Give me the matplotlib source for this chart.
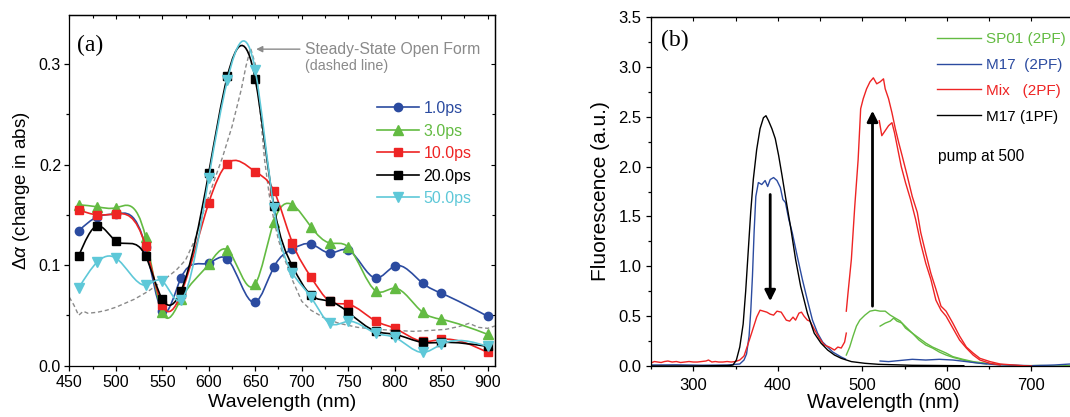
import numpy as np
import matplotlib
matplotlib.use('Agg')
import matplotlib.pyplot as plt
from matplotlib.path import Path
from matplotlib.patches import PathPatch
from matplotlib.lines import Line2D
from matplotlib.ticker import MultipleLocator, FixedLocator, FormatStrFormatter

plt.rcParams['font.family'] = ['Liberation Sans', 'DejaVu Sans']
plt.rcParams['mathtext.fontset'] = 'custom'
plt.rcParams['mathtext.rm'] = 'Liberation Sans'
plt.rcParams['mathtext.it'] = 'Liberation Sans:italic'

# ---------------- panel (a) data ----------------
wl = [460, 480, 500, 532, 550, 570, 600, 620, 650, 670, 690, 710, 730, 750, 780, 800, 830, 850, 900]
ps1 = [0.134, 0.148, 0.151, 0.118, 0.054, 0.087, 0.102, 0.106, 0.063, 0.098, 0.116, 0.121, 0.112, 0.115,
       0.087, 0.099, 0.082, 0.072, 0.049]
ps3 = [0.160, 0.158, 0.157, 0.128, 0.053, 0.066, 0.101, 0.115, 0.081, 0.143, 0.160, 0.138, 0.122, 0.118,
       0.074, 0.077, 0.053, 0.046, 0.031]
ps10 = [0.155, 0.150, 0.151, 0.119, 0.060, 0.071, 0.162, 0.201, 0.193, 0.174, 0.122, 0.088, 0.064, 0.061,
        0.044, 0.037, 0.024, 0.026, 0.013]
ps20 = [0.109, 0.139, 0.124, 0.109, 0.066, 0.074, 0.192, 0.288, 0.285, 0.159, 0.099, 0.070, 0.064, 0.053,
        0.034, 0.031, 0.023, 0.023, 0.019]
ps50 = [0.077, 0.103, 0.107, 0.080, 0.084, 0.065, 0.187, 0.284, 0.294, 0.157, 0.092, 0.068, 0.042, 0.044,
        0.032, 0.028, 0.013, 0.021, 0.019]

ss_x = [450, 455, 460, 465, 470, 480, 490, 500, 510, 520, 535, 550, 565, 575, 585, 595, 605, 615, 625, 635,
        640, 645, 650, 655, 660, 665, 670, 675, 680, 690, 700, 710, 725, 740, 760, 780, 800, 820, 840, 855,
        870, 880, 885, 890, 900, 910]
ss_y = [0.068, 0.060, 0.050, 0.054, 0.052, 0.053, 0.055, 0.058, 0.062, 0.066, 0.074, 0.084, 0.095, 0.105,
        0.125, 0.155, 0.182, 0.208, 0.238, 0.275, 0.298, 0.316, 0.300, 0.255, 0.205, 0.170, 0.145, 0.125,
        0.110, 0.085, 0.064, 0.055, 0.047, 0.042, 0.038, 0.036, 0.035, 0.034, 0.035, 0.036, 0.039, 0.042,
        0.040, 0.038, 0.037, 0.040]

# ---------------- panel (b) data ----------------
m17_1pf_x = [250, 300, 343, 347, 351, 355, 359, 362, 365, 368, 371, 375, 379, 383, 386, 389, 393, 397, 401,
             405, 409, 415, 421, 427, 435, 443, 451, 459, 467, 475, 487, 503, 519, 559, 620]
m17_1pf_y = [0.0, 0.0, 0.005, 0.01, 0.06, 0.19, 0.42, 0.75, 1.15, 1.55, 1.87, 2.17, 2.38, 2.49, 2.51, 2.46,
             2.38, 2.28, 2.11, 1.91, 1.70, 1.40, 1.07, 0.80, 0.53, 0.33, 0.23, 0.16, 0.11, 0.077, 0.044,
             0.027, 0.017, 0.007, 0.003]

m17_2pf_x = [250, 280, 310, 340, 355, 360, 363, 366, 368, 370, 372, 374, 377, 381, 385, 388, 391, 395, 399,
             403, 406, 409, 413, 417, 423, 429, 435, 441, 447, 453, 459, 465, 471, 475, 480]
m17_2pf_y = [0.01, 0.012, 0.008, 0.01, 0.02, 0.06, 0.12, 0.30, 0.55, 0.90, 1.35, 1.70, 1.84, 1.82, 1.86,
             1.80, 1.87, 1.89, 1.86, 1.79, 1.67, 1.64, 1.47, 1.34, 1.10, 0.87, 0.66, 0.46, 0.33, 0.24, 0.19,
             0.14, 0.11, 0.09, 0.07]
m17_2pf_tail_x = [521, 531, 543, 559, 575, 591, 607, 623, 639, 659, 679, 699, 727, 746]
m17_2pf_tail_y = [0.05, 0.044, 0.054, 0.067, 0.06, 0.067, 0.06, 0.044, 0.027, 0.013, 0.008, 0.003, 0.01, 0.02]

mix_x = [250, 254, 258, 262, 266, 270, 275, 280, 285, 290, 295, 300, 305, 310, 315, 318, 322, 326, 330, 335,
         340, 345, 350, 355, 360, 364, 369, 375, 379, 383, 387, 391, 395, 399, 404, 407, 410, 414, 418, 421,
         425, 428, 431, 435, 438, 443, 449, 455, 461, 467, 471, 475, 479, 481]
mix_y = [0.03, 0.045, 0.04, 0.035, 0.045, 0.05, 0.04, 0.045, 0.035, 0.04, 0.045, 0.04, 0.04, 0.045, 0.05,
         0.06, 0.04, 0.045, 0.04, 0.04, 0.045, 0.04, 0.045, 0.06, 0.10, 0.20, 0.33, 0.49, 0.56, 0.55, 0.54,
         0.52, 0.51, 0.55, 0.54, 0.50, 0.46, 0.45, 0.49, 0.46, 0.53, 0.54, 0.50, 0.46, 0.45, 0.37, 0.28,
         0.21, 0.19, 0.16, 0.19, 0.18, 0.24, 0.33]
mix2_x = [481, 483, 487, 491, 495, 498, 501, 505, 509, 513, 517, 521, 525, 527, 531, 535, 539, 543, 547, 553,
          559, 565, 569, 575, 581, 587, 593, 599, 607, 615, 623, 631, 639, 651, 663, 679, 691, 700]
mix2_y = [0.55, 0.73, 1.07, 1.60, 2.07, 2.58, 2.68, 2.78, 2.85, 2.89, 2.83, 2.85, 2.88, 2.78, 2.68, 2.54,
          2.38, 2.24, 2.11, 1.91, 1.70, 1.54, 1.34, 1.13, 0.93, 0.77, 0.60, 0.55, 0.43, 0.30, 0.19, 0.13,
          0.077, 0.044, 0.02, 0.01, 0.003, 0.0]
mix3_x = [520, 523, 527, 531, 535, 538, 542, 546, 551, 557, 563, 569, 575, 581, 587, 593, 599, 607, 615, 623,
          631, 639, 651, 663]
mix3_y = [2.46, 2.31, 2.36, 2.41, 2.44, 2.34, 2.17, 2.00, 1.84, 1.67, 1.47, 1.23, 1.03, 0.87, 0.66, 0.56,
          0.50, 0.38, 0.26, 0.18, 0.11, 0.06, 0.027, 0.01]

sp01_x = [481, 485, 489, 493, 497, 503, 509, 515, 521, 527, 533, 539, 545, 551, 559, 567, 575, 583, 591, 599,
          607, 619, 631, 647, 667, 687, 711, 730, 746]
sp01_y = [0.11, 0.19, 0.30, 0.40, 0.46, 0.51, 0.55, 0.56, 0.55, 0.55, 0.51, 0.48, 0.45, 0.38, 0.33, 0.28,
          0.23, 0.19, 0.16, 0.13, 0.094, 0.067, 0.044, 0.027, 0.013, 0.003, 0.005, 0.0, 0.005]
sp01b_x = [521, 527, 533, 537, 541, 547, 553, 559, 567, 575, 583, 591, 599, 607, 619, 631, 647]
sp01b_y = [0.40, 0.43, 0.45, 0.48, 0.45, 0.43, 0.38, 0.33, 0.26, 0.21, 0.18, 0.14, 0.11, 0.087, 0.06, 0.037,
           0.02]

BLUE = '#2b4ba0'
GREEN = '#63bb42'
RED = '#ee2424'
CYAN = '#5ec8d8'
GREY = '#8a8a8a'


def spline_path(x, y):
    # natural cubic spline, drawn as bezier segments
    x = np.asarray(x, float)
    y = np.asarray(y, float)
    n = len(x)
    h = np.diff(x)
    A = np.zeros((n, n))
    r = np.zeros(n)
    A[0, 0] = A[-1, -1] = 1
    for i in range(1, n - 1):
        A[i, i - 1] = h[i - 1]
        A[i, i] = 2 * (h[i - 1] + h[i])
        A[i, i + 1] = h[i]
        r[i] = 6 * ((y[i + 1] - y[i]) / h[i] - (y[i] - y[i - 1]) / h[i - 1])
    M = np.linalg.solve(A, r)
    d = np.empty(n)
    d[:-1] = (y[1:] - y[:-1]) / h - h * (2 * M[:-1] + M[1:]) / 6
    d[-1] = (y[-1] - y[-2]) / h[-1] + h[-1] * (M[-2] + 2 * M[-1]) / 6
    verts = [(x[0], y[0])]
    codes = [Path.MOVETO]
    for i in range(n - 1):
        verts += [(x[i] + h[i] / 3, y[i] + d[i] * h[i] / 3),
                  (x[i + 1] - h[i] / 3, y[i + 1] - d[i + 1] * h[i] / 3),
                  (x[i + 1], y[i + 1])]
        codes += [Path.CURVE4] * 3
    return Path(verts, codes)


def inner_ticks(sec, major, minor=None):
    # ticks on the top / right frame, pointing inward, no labels
    axis = sec.xaxis if hasattr(sec, 'xaxis') and sec._orientation == 'x' else sec.yaxis
    axis.set_major_locator(MultipleLocator(major))
    if minor:
        axis.set_minor_locator(MultipleLocator(minor))
    sec.tick_params(which='both', direction='in', width=0.8, labeltop=False, labelright=False,
                    labelbottom=False, labelleft=False)
    sec.tick_params(which='major', length=3)
    sec.tick_params(which='minor', length=2)
    for s in sec.spines.values():
        s.set_linewidth(0.9)


fig = plt.figure(figsize=(10.7, 4.17), dpi=100)

# ================= (a) =================
ax = fig.add_axes([0.0648, 0.1235, 0.3979, 0.8405])
ax.plot(ss_x, ss_y, color=GREY, lw=1.0, dashes=(3, 2), zorder=1)

series = [('1.0ps', ps1, BLUE, 'o', 6.0),
          ('3.0ps', ps3, GREEN, '^', 6.5),
          ('10.0ps', ps10, RED, 's', 5.5),
          ('20.0ps', ps20, 'black', 's', 5.5),
          ('50.0ps', ps50, CYAN, 'v', 6.5)]
handles = []
for k, (lab, vals, c, m, ms) in enumerate(series):
    ax.add_patch(PathPatch(spline_path(wl, vals), fill=False, edgecolor=c, lw=1.2, zorder=2 + k))
    ax.plot(wl, vals, ls='none', marker=m, ms=ms, color=c, mec=c, zorder=2.5 + k)
    handles.append(Line2D([], [], color=c, lw=1.2, marker=m, ms=ms, mec=c))

ax.set_xlim(450, 908)
ax.set_ylim(0, 0.349)
ax.xaxis.set_major_locator(MultipleLocator(50))
ax.xaxis.set_minor_locator(MultipleLocator(25))
ax.yaxis.set_major_locator(MultipleLocator(0.1))
ax.yaxis.set_minor_locator(MultipleLocator(0.05))
ax.tick_params(which='both', direction='out', width=0.9, labelsize=11.5, top=False, right=False)
ax.tick_params(which='major', length=3.5)
ax.tick_params(which='minor', length=2.5)
ax.tick_params(axis='x', pad=3)
ax.tick_params(axis='y', pad=2.5)
ax.yaxis.set_major_formatter(FormatStrFormatter('%.1f'))
inner_ticks(ax.secondary_xaxis('top'), 50, 25)
inner_ticks(ax.secondary_yaxis('right'), 0.1, 0.05)
for s in ax.spines.values():
    s.set_linewidth(0.9)

ax.set_xlabel('Wavelength (nm)', fontsize=14, labelpad=3)
ax.set_ylabel(r'$\Delta\alpha$ (change in abs)', fontsize=13.5, labelpad=5)
ax.text(0.017, 0.914, '(a)', transform=ax.transAxes, family='Liberation Serif', fontsize=17,
        va='center', ha='left')
ax.annotate('', xy=(651, 0.315), xytext=(698, 0.315),
            arrowprops=dict(arrowstyle='-|>', color=GREY, lw=1.0, mutation_scale=9, shrinkA=0, shrinkB=0))
ax.text(703.5, 0.315, 'Steady-State Open Form', color=GREY, fontsize=11.3, va='center', ha='left')
ax.text(703.5, 0.298, '(dashed line)', color=GREY, fontsize=10.3, va='center', ha='left')

leg = ax.legend(handles, [s[0] for s in series], loc='upper left', frameon=False,
                bbox_to_anchor=(377 / 1070, 1 - 101 / 417), bbox_transform=fig.transFigure,
                borderpad=0, borderaxespad=0, fontsize=11.5, handlelength=2.6, handletextpad=0.3,
                labelspacing=0.47)
for t, s in zip(leg.get_texts(), series):
    t.set_color(s[2])

# ================= (b) =================
bx = fig.add_axes([0.6084, 0.1223, 0.4346, 0.8369])
bx.plot(sp01_x, sp01_y, color=GREEN, lw=1.0, label='SP01 (2PF)')
bx.plot(sp01b_x, sp01b_y, color=GREEN, lw=1.0)
bx.plot(m17_2pf_x, m17_2pf_y, color=BLUE, lw=1.0, label='M17  (2PF)')
bx.plot(m17_2pf_tail_x, m17_2pf_tail_y, color=BLUE, lw=1.0)
bx.plot(mix_x, mix_y, color=RED, lw=1.0, label='Mix   (2PF)')
bx.plot(mix2_x, mix2_y, color=RED, lw=1.0)
bx.plot(mix3_x, mix3_y, color=RED, lw=1.0)
bx.plot(m17_1pf_x, m17_1pf_y, color='black', lw=1.0, label='M17 (1PF)')

bx.annotate('', xy=(391, 0.65), xytext=(391, 1.72),
            arrowprops=dict(arrowstyle='-|>', color='black', lw=2.0, mutation_scale=16, shrinkA=0, shrinkB=0))
bx.annotate('', xy=(512, 2.56), xytext=(512, 0.6),
            arrowprops=dict(arrowstyle='-|>', color='black', lw=2.0, mutation_scale=16, shrinkA=0, shrinkB=0))

bx.set_xlim(250, 800)
bx.set_ylim(0, 3.5)
bx.xaxis.set_major_locator(FixedLocator([300, 400, 500, 600, 700]))
bx.xaxis.set_minor_locator(MultipleLocator(50))
bx.yaxis.set_major_locator(MultipleLocator(0.5))
bx.yaxis.set_minor_locator(MultipleLocator(0.25))
bx.tick_params(which='both', direction='out', width=0.9, labelsize=12, top=False, right=False)
bx.tick_params(which='major', length=3.5)
bx.tick_params(which='minor', length=2.5)
bx.tick_params(axis='x', pad=5)
bx.tick_params(axis='y', pad=3.5)
bx.yaxis.set_major_formatter(FormatStrFormatter('%.1f'))
inner_ticks(bx.secondary_xaxis('top'), 50)
for s in bx.spines.values():
    s.set_linewidth(0.9)

bx.set_xlabel('Wavelength (nm)', fontsize=14.5, labelpad=0)
bx.set_ylabel('Fluorescence (a.u.)', fontsize=15, labelpad=6)
bx.text(0.021, 0.934, '(b)', transform=bx.transAxes, family='Liberation Serif', fontsize=17,
        va='center', ha='left')
bx.text(937.7 / 1070, 1 - 156 / 417, 'pump at 500', transform=fig.transFigure, fontsize=11.2,
        va='center', ha='left')

leg2 = bx.legend(loc='upper left', frameon=False,
                 bbox_to_anchor=(937 / 1070, 1 - 32 / 417), bbox_transform=fig.transFigure,
                 borderpad=0, borderaxespad=0, fontsize=11, handlelength=2.9, handletextpad=0.3,
                 labelspacing=0.78)
for t, l in zip(leg2.get_texts(), leg2.get_lines()):
    t.set_color(l.get_color())

fig.savefig('out.png', dpi=100)
